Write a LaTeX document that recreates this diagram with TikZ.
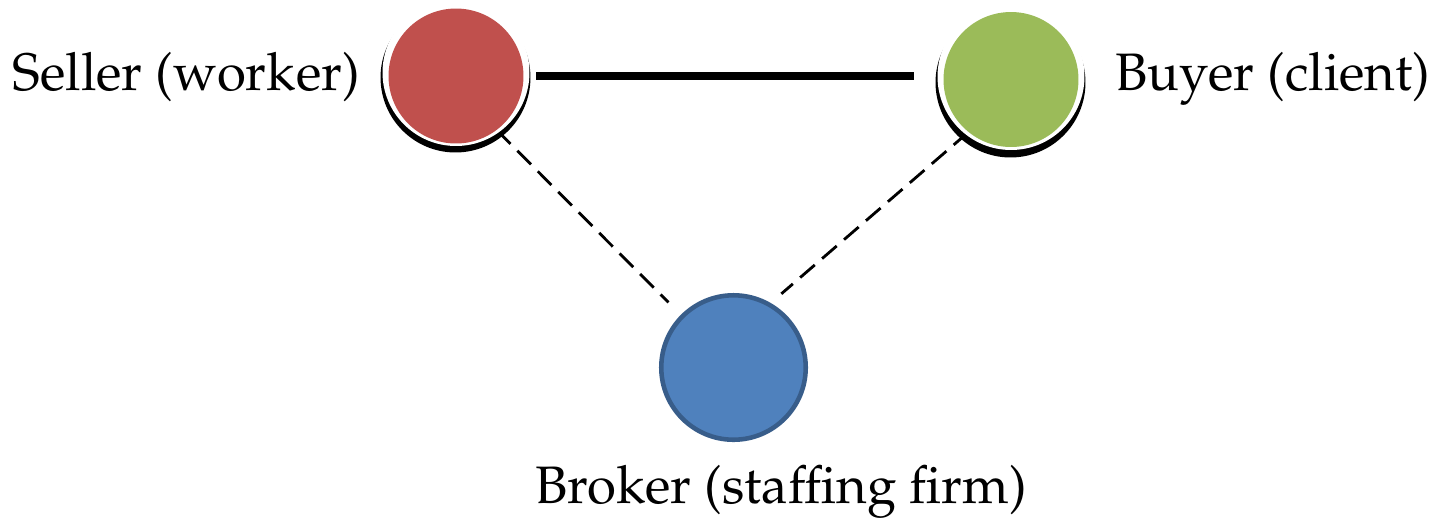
\documentclass[tikz,border=0pt]{standalone}
\usepackage[T1]{fontenc}
\usepackage{mathpazo}
\usetikzlibrary{backgrounds,calc}
\definecolor{sellerred}{RGB}{192,80,77}
\definecolor{buyergreen}{RGB}{155,187,89}
\definecolor{brokerblue}{RGB}{79,129,189}
\definecolor{brokerline}{RGB}{56,93,138}

\begin{document}
\begin{tikzpicture}[x=0.02cm, y=-0.02cm, font=\fontsize{30}{36}\selectfont,
  party/.style={circle, inner sep=0pt, minimum size=2.7cm},
  rim/.style={fill=white},
  rimshade/.style={fill=black},
  tie/.style={line width=4.3pt},
  link/.style={line width=1.6pt, dash pattern=on 11pt off 5.5pt}]
\useasboundingbox (0,0) rectangle (1434,529);
\node[party, fill=sellerred] (seller) at (456,76) {};
\node[party, fill=buyergreen] (buyer) at (1011,79.5) {};
\node[circle, inner sep=0pt, minimum size=2.89cm, fill=brokerblue, draw=brokerline, line width=2.6pt] (broker) at (733.5,367.5) {};
\node[anchor=base east, inner sep=0pt] (sellerlabel) at (360,90) {Seller (worker)};
\node[anchor=base west, inner sep=0pt] (buyerlabel) at (1115,90) {Buyer (client)};
\node[anchor=base, inner sep=0pt] (brokerlabel) at (781,503) {Broker (staffing firm)};
\begin{scope}[on background layer]
% dashed links go under the rims
\draw[link, shorten >=0.35cm] (seller.-53) -- (broker.135);
\draw[link, shorten >=0.28cm] (buyer.231) -- (broker.60);
\fill[rimshade] ($(seller)+(-0.5,1.5)$) circle[radius=1.5cm];
\fill[rim] ($(seller)+(0,-3.5)$) circle[radius=1.47cm];
\fill[rimshade] ($(buyer)+(-0.5,3)$) circle[radius=1.5cm];
\fill[rim] ($(buyer)+(0,-3)$) circle[radius=1.47cm];
\end{scope}
\draw[tie, shorten <=0.25cm, shorten >=0.59cm] (seller.east) -- (seller.east -| buyer.west);
\end{tikzpicture}
\end{document}
